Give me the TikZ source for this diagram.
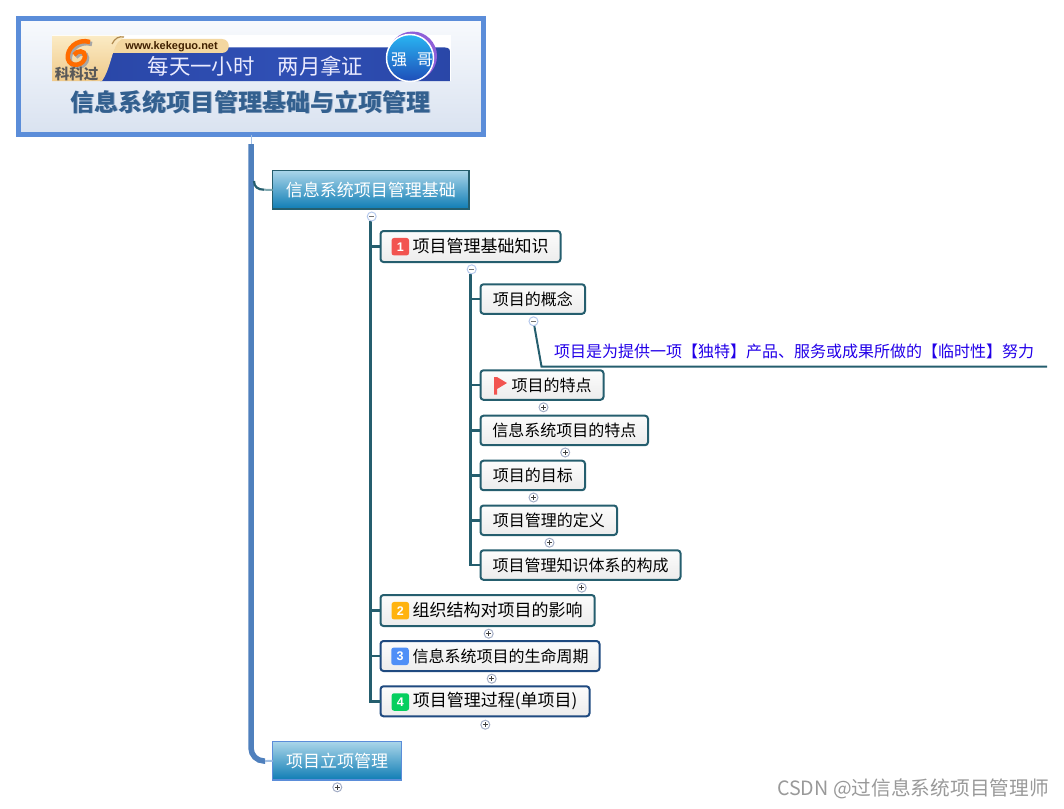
\documentclass[tikz,border=0pt]{standalone}
\usepackage{fontspec}
\setmainfont{Noto Sans CJK SC}
\newfontfamily\latinbold{Liberation Sans}
\definecolor{teal1}{HTML}{255E6E}
\definecolor{navy1}{HTML}{1F4A80}
\definecolor{trunkblue}{HTML}{4F80BD}
\definecolor{borderblue}{HTML}{5B8DD9}
\definecolor{titleblue}{HTML}{33608F}
\definecolor{shadowblue}{HTML}{9DB2CE}
\definecolor{F8FAFD}{HTML}{F8FAFD}
\definecolor{D9E2F0}{HTML}{D9E2F0}
\definecolor{A9D5E9}{HTML}{A9D5E9}
\definecolor{0E7CB4}{HTML}{0E7CB4}
\definecolor{FCFCFC}{HTML}{FCFCFC}
\definecolor{ECECEC}{HTML}{ECECEC}
\definecolor{A4AEC6}{HTML}{A4AEC6}
\definecolor{B4C8EC}{HTML}{B4C8EC}
\definecolor{2A47A8}{HTML}{2A47A8}
\definecolor{2F4FB4}{HTML}{2F4FB4}
\definecolor{F3D08E}{HTML}{EFC98A}
\definecolor{FCEFC8}{HTML}{FBEBC4}
\definecolor{F3D7A0}{HTML}{F3D7A0}
\definecolor{A3C0E4}{HTML}{A3C0E4}
\definecolor{7FA8B0}{HTML}{7FA8B0}
\definecolor{F25450}{HTML}{F25450}
\definecolor{FFB30F}{HTML}{FFB30F}
\definecolor{4F8FF7}{HTML}{4F8FF7}
\definecolor{05CF5F}{HTML}{05CF5F}
\definecolor{2200E8}{HTML}{2200E8}
\definecolor{29B5F2}{HTML}{29B5F2}
\definecolor{1E4DB8}{HTML}{1E4DB8}
\definecolor{A060E0}{HTML}{8F5FD8}
\definecolor{B08A50}{HTML}{B08A50}
\tikzset{
  x=1pt,y=-1pt,
  centralbox/.style={draw=borderblue,line width=5pt,top color=F8FAFD,bottom color=D9E2F0,anchor=north west,inner sep=0pt,outer sep=0pt},
  topicbox/.style={line width=1.5pt,top color=A9D5E9,bottom color=0E7CB4,text=white,anchor=north west,inner sep=0pt,outer sep=0pt,font=\fontsize{17}{20}\selectfont},
  subbox/.style={draw=teal1,line width=2pt,rounded corners=3pt,top color=FCFCFC,bottom color=ECECEC,anchor=north west,inner sep=0pt,outer sep=0pt,font=\fontsize{16}{20}\selectfont,text=black},
  topbox/.style={subbox,font=\fontsize{17}{20}\selectfont},
  conn/.style={draw=teal1,line width=2.5pt},
  noteline/.style={draw=teal1,line width=2pt},
  badge/.style={rounded corners=2.5pt,minimum size=17.5pt,inner sep=0pt,text=white,font=\latinbold\bfseries\fontsize{12.5}{14}\selectfont},
  iconbase/.style={circle,draw,fill=white,line width=1pt,minimum size=9pt,inner sep=0pt},
  iconplus/.style={iconbase,draw=A4AEC6,path picture={\draw[black!75,line width=.8pt] (path picture bounding box.center)+(-2.6,0)--+(2.6,0) (path picture bounding box.center)+(0,-2.6)--+(0,2.6);}},
  iconminus/.style={iconbase,draw=B4C8EC,path picture={\draw[black!55,line width=.8pt] (path picture bounding box.center)+(-2.6,0)--+(2.6,0);}},
}
\begin{document}
\begin{tikzpicture}
\useasboundingbox (0,0) rectangle (1064,808);
% central topic
\node[centralbox,minimum width=465pt,minimum height=116pt] (central) at (18.5,18.5) {};
% banner
\fill[white] (52,35) rectangle (451,81);
\shade[left color=2A47A8,right color=2A47A8,middle color=2F4FB4] (105,47.5) -- (445,47.5) .. controls (449,47.5) and (450.5,50) .. (450.5,53) -- (450.5,81) -- (100,81) -- cycle;
\fill[F3D7A0] (118,39) -- (222,39) .. controls (231,39) and (231,53) .. (222,53) -- (112,53) -- cycle;
\shade[top color=FCEFC8,bottom color=F3D08E] (52,36) -- (120,36) .. controls (127,36) and (124,37) .. (118,42) .. controls (112,50) and (110,70) .. (102,81) -- (52,81) -- cycle;
\draw[B08A50,line width=1.2pt] (112,44) .. controls (115,38) and (119,36) .. (124,37);
\draw[black!35,line width=4.5pt] (92,44) .. controls (79,40) and (68,51) .. (70,61) .. controls (72,70) and (87,68) .. (87,58) .. controls (87,52) and (79,52) .. (76,57);
\draw[orange!85!red,line width=4.5pt] (90,42) .. controls (77,38) and (66,49) .. (68,59) .. controls (70,68) and (85,66) .. (85,56) .. controls (85,50) and (77,50) .. (74,55);
\node[font=\bfseries\fontsize{14.5}{16}\selectfont,text=black!65,inner sep=0pt] (logotext) at (76.5,74.5) {科科过};
\node[font=\latinbold\bfseries\fontsize{11}{12}\selectfont,text=black!75!orange,inner sep=0pt] (url) at (171.5,46.5) {www.kekeguo.net};
\node[font=\fontsize{21.4}{24}\selectfont,text=white!92!blue,inner sep=0pt] (slogan) at (255.5,66) {每天一小时\hspace{1.07em}两月拿证};
\fill[A060E0] (412.5,56) circle (24.5);
\shade[top color=29B5F2,bottom color=1E4DB8,draw=white,line width=1.5pt] (410,58) circle (23.5);
\node[font=\fontsize{16}{18}\selectfont,text=white,inner sep=0pt] (qiang) at (412,59.5) {强\hspace{0.6em}哥};
% title
\node[font=\bfseries\fontsize{24}{28}\selectfont,text=shadowblue,inner sep=0pt] (titleshadow) at (251.2,102.7) {信息系统项目管理基础与立项管理};
\node[font=\bfseries\fontsize{24}{28}\selectfont,text=titleblue,inner sep=0pt] (title) at (250.5,102) {信息系统项目管理基础与立项管理};
% topics
\node[topicbox,draw=teal1,minimum width=196.5pt,minimum height=38.5pt] (topicA) at (272.7,170.7) {信息系统项目管理基础};
\node[topicbox,draw=borderblue,minimum width=129pt,minimum height=38.5pt] (topicB) at (272.7,741.7) {项目立项管理};
% main trunk
\coordinate (mainTop) at (251,144);
\coordinate (mainBranchA) at (254,181);
\coordinate (mainBranchAEnd) at (264,189.7);
\coordinate (mainEnd) at (265,761);
\draw[draw=A3C0E4,line width=1pt] (central.south) -- (mainTop);
\draw[draw=trunkblue,line width=5.5pt,rounded corners=13pt] (mainTop) |- (mainEnd);
\draw[draw=A3C0E4,line width=2pt] (mainEnd) -- (topicB.west);
\draw[draw=teal1,line width=2.2pt] (mainBranchA) .. controls (254,187) and (258,189.7) .. (mainBranchAEnd);
\draw[draw=7FA8B0,line width=2pt] (mainBranchAEnd) -- (topicA.west);
% level 2
\node[topbox,minimum width=180pt,minimum height=31pt] (a1) at (380.5,231) {\raisebox{-1pt}{\hspace*{20pt}项目管理基础知识}};
\node[topbox,minimum width=214.2pt,minimum height=31pt] (a2) at (380.5,595) {\raisebox{-1.5pt}{\hspace*{20pt}组织结构对项目的影响}};
\node[subbox,draw=navy1,minimum width=219pt,minimum height=30pt] (a3) at (380.5,641) {\raisebox{-1pt}{\hspace*{21pt}信息系统项目的生命周期}};
\node[topbox,draw=navy1,minimum width=209pt,minimum height=30pt] (a4) at (380.5,686.3) {\raisebox{-1.5pt}{\hspace*{20pt}项目管理过程(单项目)}};
\node[badge,fill=F25450] (n1) at (400.3,246.7) {1};
\node[badge,fill=FFB30F] (n2) at (400.3,610.7) {2};
\node[badge,fill=4F8FF7] (n3) at (400,656.3) {3};
\node[badge,fill=05CF5F] (n4) at (400.3,702) {4};
% level 3
\node[subbox,minimum width=104.5pt,minimum height=29.5pt] (b1) at (480.5,284.3) {项目的概念};
\node[subbox,minimum width=123pt,minimum height=29.5pt] (b2) at (480.5,370.3) {\hspace*{19pt}项目的特点};
\node[subbox,minimum width=167.5pt,minimum height=29.5pt] (b3) at (480.5,415.7) {信息系统项目的特点};
\node[subbox,minimum width=104.5pt,minimum height=29.5pt] (b4) at (480.5,460.7) {项目的目标};
\node[subbox,minimum width=136.5pt,minimum height=29.5pt] (b5) at (480.5,505.5) {项目管理的定义};
\node[subbox,minimum width=200pt,minimum height=29.5pt] (b6) at (480.5,550.3) {项目管理知识体系的构成};
\fill[F25450] (494,377) -- (497,377) -- (507,383) -- (497,389) -- (497,394.5) -- (494,394.5) -- cycle;
% note
\node[font=\fontsize{16}{20}\selectfont,text=2200E8,inner sep=0pt] (note) at (794,351.5) {项目是为提供一项【独特】产品、服务或成果所做的【临时性】努力};
% connectors
\coordinate (t1) at (370.5,221);
\coordinate (t2) at (470.3,274);
\coordinate (noteBend) at (541.5,366.5);
\coordinate (noteEnd) at (1047,366.5);
\draw[conn] (t1) |- (a1.west);
\draw[conn] (t1) |- (a2.west);
\draw[conn] (t1) |- (a3.west);
\draw[conn] (t1) |- (a4.west);
\draw[conn] (t2) |- (b1.west);
\draw[conn] (t2) |- (b2.west);
\draw[conn] (t2) |- (b3.west);
\draw[conn] (t2) |- (b4.west);
\draw[conn] (t2) |- (b5.west);
\draw[conn] (t2) |- (b6.west);
\coordinate (noteStart) at (533.5,321.3);
\draw[noteline] (noteStart) -- (noteBend) -- (noteEnd);
% icons
\node[iconminus] (i1) at (371.7,216.5) {};
\node[iconminus] (i2) at (471.7,269.3) {};
\node[iconminus] (i3) at (noteStart) {};
\node[iconplus] (p1) at (543.5,407.3) {};
\node[iconplus] (p2) at (565.2,452.5) {};
\node[iconplus] (p3) at (533.5,497.5) {};
\node[iconplus] (p4) at (549.5,542.7) {};
\node[iconplus] (p5) at (581.7,587.7) {};
\node[iconplus] (p6) at (488.7,633.7) {};
\node[iconplus] (p7) at (491.7,678.7) {};
\node[iconplus] (p8) at (485.3,724.7) {};
\node[iconplus] (p9) at (337.3,787.3) {};
% watermark
\node[font=\fontsize{19.7}{22}\selectfont,text=black!40,inner sep=0pt,anchor=east] (mark) at (1049,789) {CSDN @过信息系统项目管理师};
\end{tikzpicture}
\end{document}
